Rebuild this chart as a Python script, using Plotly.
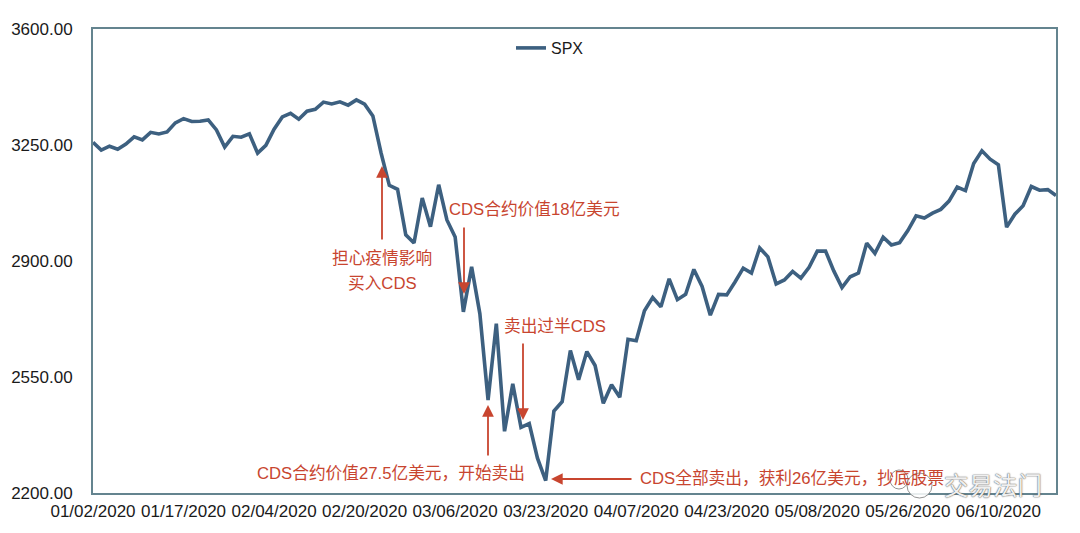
import plotly.graph_objects as go

dates = ["01/02","01/03","01/06","01/07","01/08","01/09","01/10","01/13","01/14","01/15","01/16","01/17",
"01/21","01/22","01/23","01/24","01/27","01/28","01/29","01/30","01/31","02/03","02/04","02/05","02/06","02/07",
"02/10","02/11","02/12","02/13","02/14","02/18","02/19","02/20","02/21","02/24","02/25","02/26","02/27","02/28",
"03/02","03/03","03/04","03/05","03/06","03/09","03/10","03/11","03/12","03/13","03/16","03/17","03/18","03/19","03/20",
"03/23","03/24","03/25","03/26","03/27","03/30","03/31","04/01","04/02","04/03","04/06","04/07","04/08","04/09",
"04/13","04/14","04/15","04/16","04/17","04/20","04/21","04/22","04/23","04/24","04/27","04/28","04/29","04/30","05/01",
"05/04","05/05","05/06","05/07","05/08","05/11","05/12","05/13","05/14","05/15","05/18","05/19","05/20","05/21","05/22",
"05/26","05/27","05/28","05/29","06/01","06/02","06/03","06/04","06/05","06/08","06/09","06/10","06/11","06/12",
"06/15","06/16","06/17","06/18","06/19"]
dates = [d + "/2020" for d in dates]

spx = [3257.85,3234.85,3246.28,3237.18,3253.05,3274.70,3265.35,3288.13,3283.15,3289.29,3316.81,3329.62,
3320.79,3321.75,3325.54,3295.47,3243.63,3276.24,3273.40,3283.66,3225.52,3248.92,3297.59,3334.69,3345.78,3327.71,
3352.09,3357.75,3379.45,3373.94,3380.16,3370.29,3386.15,3373.23,3337.75,3225.89,3128.21,3116.39,2978.76,2954.22,
3090.23,3003.37,3130.12,3023.94,2972.37,2746.56,2882.23,2741.38,2480.64,2711.02,2386.13,2529.19,2398.10,2409.39,2304.92,
2237.40,2447.33,2475.56,2630.07,2541.47,2626.65,2584.59,2470.50,2526.90,2488.65,2663.68,2659.41,2749.98,2789.82,
2761.63,2846.06,2783.36,2799.55,2874.56,2823.16,2736.56,2799.31,2797.80,2836.74,2878.48,2863.39,2939.51,2912.43,2830.71,
2842.74,2868.44,2848.42,2881.19,2929.80,2930.19,2870.12,2820.00,2852.50,2863.70,2953.91,2922.94,2971.61,2948.51,2955.45,
2991.77,3036.13,3029.73,3044.31,3055.73,3080.82,3122.87,3112.35,3193.93,3232.39,3207.18,3190.14,3002.10,3041.31,
3066.59,3124.74,3113.49,3115.34,3097.74]

y_ticks = [2200, 2550, 2900, 3250, 3600]
x_ticks = dates[::11]

PAGE_INSET = 8  # the browser's default body margin
W, H = 1080 - PAGE_INSET, 533 - PAGE_INSET
L, R, T, B = 93, 1056, 29, 493
RED = "#c8452f"
FONT = "Helvetica Neue, Liberation Sans, Noto Sans CJK SC, sans-serif"

def px(x): return (x - L) / (R - L)
def py(y): return (B - y) / (B - T)

arrows = [((382, 241), (382, 166)), ((464, 226), (464, 294)), ((488, 457), (488, 405)),
          ((523, 342), (523, 420)), ((633, 479), (551, 479))]
labels = [("担心疫情影响", 382, 258), ("买入CDS", 382, 283), ("CDS合约价值18亿美元", 534, 209),
          ("卖出过半CDS", 555, 327), ("CDS合约价值27.5亿美元，开始卖出", 391, 473),
          ("CDS全部卖出，获利26亿美元，抄底股票", 792, 478)]

ann = []
for (tail, tip) in arrows:
    ann.append(dict(x=px(tip[0]), y=py(tip[1]), xref="paper", yref="paper", axref="pixel", ayref="pixel",
                    ax=tail[0]-tip[0], ay=tail[1]-tip[1], text="", showarrow=True,
                    arrowhead=2, arrowsize=1.3, arrowwidth=1.8, arrowcolor=RED))
for (t, x, y) in labels:
    ann.append(dict(x=px(x), y=py(y), xref="paper", yref="paper", text=t, showarrow=False,
                    xanchor="center", yanchor="middle",
                    font=dict(size=16.7, color=RED, family=FONT)))

def bubble(x0, y0, x1, y1):
    return dict(type="circle", xref="paper", yref="paper", x0=px(x0), x1=px(x1), y0=py(y1), y1=py(y0),
                line=dict(color="rgba(120,120,120,0.8)", width=1), fillcolor="rgba(255,255,255,0.85)", layer="above")

ann.append(dict(x=px(993), y=py(484), xref="paper", yref="paper", text="交易法门", showarrow=False,
                xanchor="center", yanchor="middle",
                font=dict(size=24.5, color="rgba(255,255,255,0.92)", family="Noto Sans CJK SC",
                          shadow="0px 0px 1.5px #555555, 0px 0px 1px #555555")))

fig = go.Figure(go.Scatter(x=dates, y=spx, mode="lines", name="SPX",
                           line=dict(color="#3d6080", width=3.6)))
fig.update_layout(
    width=W, height=H,
    margin=dict(l=L-PAGE_INSET, r=W-(R-PAGE_INSET), t=T-PAGE_INSET, b=H-(B-PAGE_INSET)),
    paper_bgcolor="white", plot_bgcolor="white",
    font=dict(family=FONT, color="#1a1a1a", size=17),
    showlegend=True,
    legend=dict(x=px(550), y=py(48), xanchor="center", yanchor="middle", bgcolor="rgba(0,0,0,0)",
                font=dict(size=16), itemwidth=30),
    annotations=ann,
    shapes=[bubble(890, 470, 908, 489), bubble(907, 473, 932, 498)],
    xaxis=dict(type="category", categoryorder="array", categoryarray=dates, range=[0, len(dates)-1],
               automargin=False,
               tickmode="array", tickvals=x_ticks, ticktext=x_ticks, tickangle=0,
               showgrid=False, zeroline=False, showline=True, linecolor="#64848f", linewidth=2,
               mirror=True, ticks="outside", ticklen=2, tickcolor="rgba(0,0,0,0)", tickfont=dict(size=17)),
    yaxis=dict(range=[2200, 3600], tickmode="array", tickvals=y_ticks, tickformat=".2f",
               automargin=False,
               showgrid=False, zeroline=False, showline=True, linecolor="#64848f", linewidth=2,
               mirror=True, ticks="outside", ticklen=15, tickcolor="rgba(0,0,0,0)", tickfont=dict(size=17)),
)
fig.write_html("out.html")
